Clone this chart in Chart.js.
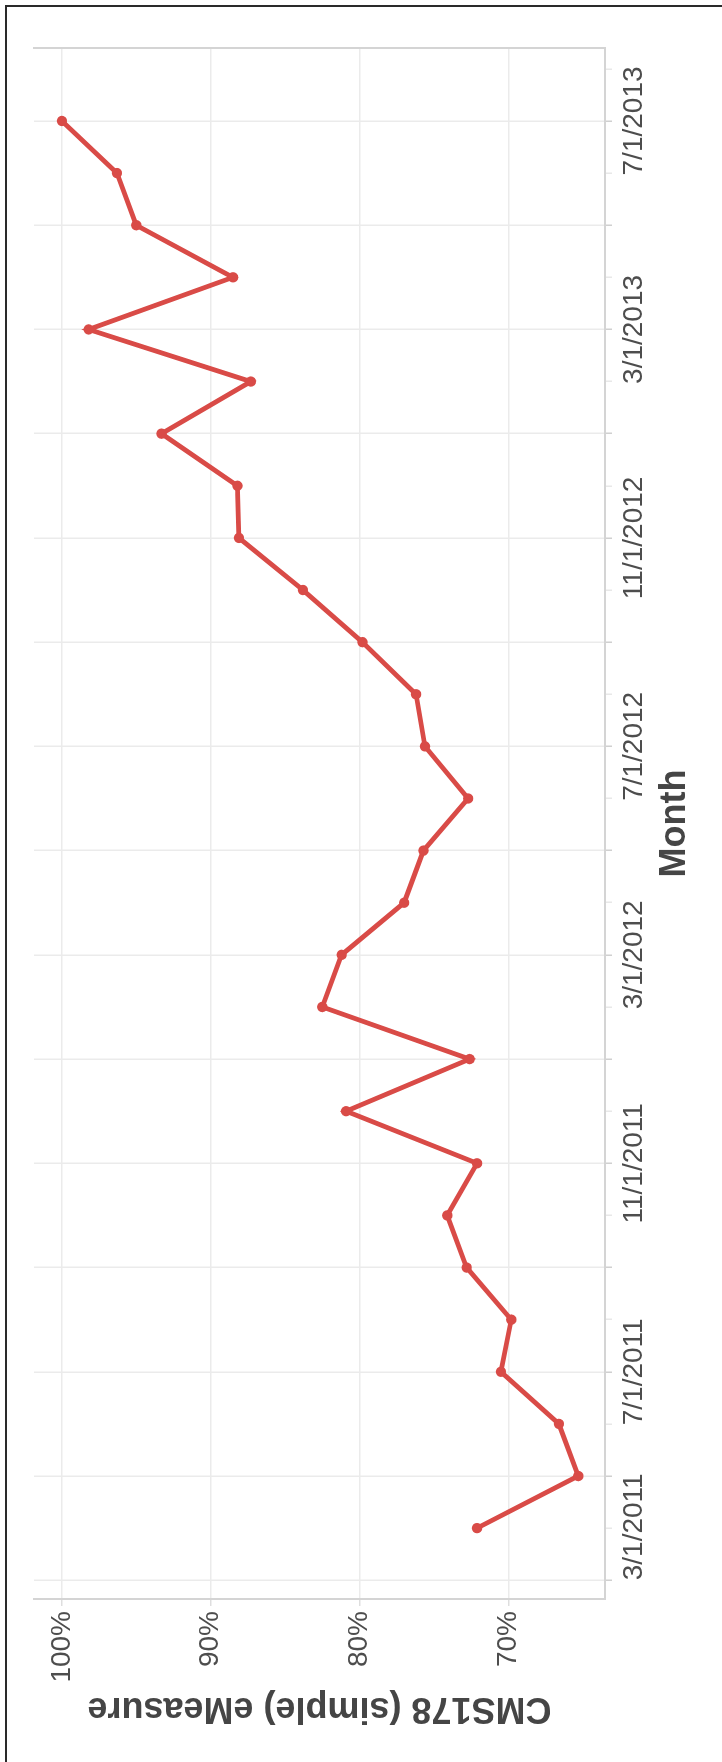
<!DOCTYPE html>
<html>
<head>
<meta charset="utf-8">
<script src="https://cdn.jsdelivr.net/npm/chart.js@4"></script>
<style>
html, body { margin: 0; padding: 0; background: #fff; overflow: hidden; width: 722px; height: 1762px; }
#wrap { position: absolute; left: 0; top: 0; width: 1762px; height: 722px; transform-origin: 0 0; transform: translateY(1762px) rotate(-90deg); }
#frame { position: absolute; left: 5px; top: 5px; width: 760px; height: 1800px; border-left: 2px solid #2a2a2a; border-top: 2px solid #2a2a2a; pointer-events: none; }
</style>
</head>
<body>
<div id="wrap"><canvas id="c" width="1762" height="722"></canvas></div>
<div id="frame"></div>
<script>
// ---- data ----
const months = [
  '4/1/2011','5/1/2011','6/1/2011','7/1/2011','8/1/2011','9/1/2011','10/1/2011','11/1/2011','12/1/2011',
  '1/1/2012','2/1/2012','3/1/2012','4/1/2012','5/1/2012','6/1/2012','7/1/2012','8/1/2012','9/1/2012','10/1/2012','11/1/2012','12/1/2012',
  '1/1/2013','2/1/2013','3/1/2013','4/1/2013','5/1/2013','6/1/2013','7/1/2013'
];
const measure = [
  72.1, 65.3, 66.6, 70.5, 69.8, 72.8, 74.1, 72.1, 80.9,
  72.6, 82.5, 81.2, 77.0, 75.7, 72.7, 75.6, 76.2, 79.8, 83.8, 88.1, 88.2,
  93.3, 87.3, 98.2, 88.5, 95.0, 96.3, 100.0
];
const tickLabels = ['3/1/2011','7/1/2011','11/1/2011','3/1/2012','7/1/2012','11/1/2012','3/1/2013','7/1/2013'];
const percentTicks = [70, 80, 90, 100];

// month offset from 3/1/2011
function monthIndex(s) {
  const p = s.split('/');
  return (parseInt(p[2], 10) - 2011) * 12 + (parseInt(p[0], 10) - 3);
}
const tickIndex = {};
tickLabels.forEach(l => { tickIndex[monthIndex(l)] = l; });

const FONT = '"Liberation Sans", Arial, Helvetica, sans-serif';
const RED = '#d94b47';
const GRID = '#ebebeb';
const AXIS = '#d4d4d4';

const points = months.map((m, i) => ({ x: monthIndex(m), y: measure[i] }));

new Chart(document.getElementById('c'), {
  type: 'line',
  data: {
    datasets: [{
      data: points,
      borderColor: RED,
      backgroundColor: RED,
      borderWidth: 4.8,
      pointRadius: 5.2,
      pointHoverRadius: 5.2,
      pointBackgroundColor: RED,
      pointBorderWidth: 0,
      tension: 0,
      fill: false
    }]
  },
  options: {
    responsive: false,
    animation: false,
    events: [],
    layout: { padding: { left: 10, right: 48, top: 34, bottom: 0 } },
    plugins: { legend: { display: false }, tooltip: { enabled: false } },
    scales: {
      x: {
        type: 'linear',
        position: 'bottom',
        min: -0.36,
        max: 29.4,
        afterFit: s => { s.height = 117; },
        ticks: {
          stepSize: 1,
          autoSkip: false,
          maxRotation: 0,
          minRotation: 0,
          includeBounds: false,
          align: 'inner',
          padding: 5,
          color: '#4d4d4d',
          font: { family: FONT, size: 28 },
          callback: v => tickIndex[v] || ''
        },
        grid: {
          color: c => (c.tick && c.tick.value % 2 === 0) ? GRID : 'rgba(0,0,0,0)',
          lineWidth: 1.5,
          tickLength: 7,
          tickWidth: 1.5,
          tickColor: c => (c.tick && c.tick.value % 2 === 0) ? '#d0d0d0' : '#e8e8e8'
        },
        border: { display: true, color: AXIS, width: 2 },
        title: {
          display: true, text: 'Month', color: '#454545',
          font: { family: FONT, size: 36, weight: 'bold' },
          padding: { top: 0, bottom: 25 }
        }
      },
      y: {
        type: 'linear',
        position: 'left',
        min: 63.5,
        max: 101.87,
        afterFit: s => { s.width = 153; },
        ticks: {
          stepSize: 10,
          includeBounds: false,
          padding: 5,
          color: '#4d4d4d',
          font: { family: FONT, size: 28 },
          callback: v => percentTicks.includes(v) ? v + '%' : ''
        },
        grid: { color: GRID, lineWidth: 1.5, tickLength: 7, tickColor: '#dedede' },
        border: { display: true, color: AXIS, width: 2 },
        title: {
          display: true, text: 'CMS178 (simple) eMeasure', color: '#454545',
          font: { family: FONT, size: 36, weight: 'bold' },
          padding: { top: 22, bottom: 0 }
        }
      },
      y2: {
        type: 'linear',
        position: 'right',
        min: 63.5,
        max: 101.87,
        afterFit: s => { s.width = 0; },
        ticks: { display: false },
        grid: { display: false, drawTicks: false },
        border: { display: true, color: AXIS, width: 2 }
      }
    }
  }
});
</script>
</body>
</html>
